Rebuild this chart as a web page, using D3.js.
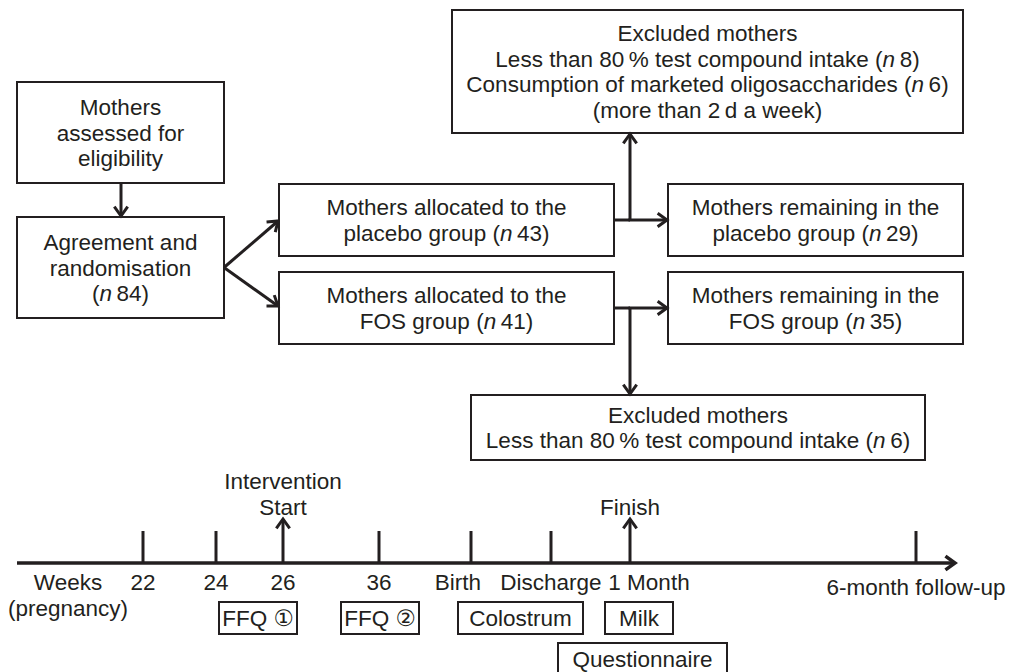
<!DOCTYPE html>
<html>
<head>
<meta charset="utf-8">
<script src="https://cdn.jsdelivr.net/npm/d3@7"></script>
<style>
  body { margin: 0; background: #fff; }
  svg text { font-family: "Liberation Sans", Arial, "DejaVu Sans", sans-serif; fill: #231f20; }
</style>
</head>
<body>
<svg id="chart" width="1010" height="672"></svg>
<script>
// counts
const nRandomised = 84;
const nAllocated = [43, 41];          // placebo, FOS
const nRemaining = [29, 35];
const nExcludedIntake = [8, 6];
const nExcludedOligo = 6;

// timeline
const milestones = ['22', '24', '26', '36', 'Birth', 'Discharge', '1 Month', '6-month follow-up'];
const arrowMilestones = ['26', '1 Month'];
const arrowCaptions = [['Intervention', 'Start'], ['Finish']];
const samples = ['FFQ \u2460', 'FFQ \u2461', 'Colostrum', 'Milk', 'Questionnaire'];

const TS = '\u2009'; // thin space
const nTxt = v => [{t: '('}, {t: 'n', i: true}, {t: TS + v + ')'}];

const boxes = [
  {id: 'assess', x: 17, y: 82, w: 207, h: 101, lines: [[{t: 'Mothers'}], [{t: 'assessed for'}], [{t: 'eligibility'}]]},
  {id: 'random', x: 17, y: 217, w: 207, h: 101, lines: [[{t: 'Agreement and'}], [{t: 'randomisation'}], nTxt(nRandomised)]},
  {id: 'allocP', x: 279, y: 184, w: 335, h: 72, lines: [[{t: 'Mothers allocated to the'}], [{t: 'placebo group '}].concat(nTxt(nAllocated[0]))]},
  {id: 'allocF', x: 279, y: 272, w: 335, h: 72, lines: [[{t: 'Mothers allocated to the'}], [{t: 'FOS group '}].concat(nTxt(nAllocated[1]))]},
  {id: 'remP', x: 668, y: 184, w: 295, h: 72, lines: [[{t: 'Mothers remaining in the'}], [{t: 'placebo group '}].concat(nTxt(nRemaining[0]))]},
  {id: 'remF', x: 668, y: 272, w: 295, h: 72, lines: [[{t: 'Mothers remaining in the'}], [{t: 'FOS group '}].concat(nTxt(nRemaining[1]))]},
  {id: 'exclP', x: 452, y: 10, w: 511, h: 123, lines: [
    [{t: 'Excluded mothers'}],
    [{t: 'Less than 80' + TS + '% test compound intake '}].concat(nTxt(nExcludedIntake[0])),
    [{t: 'Consumption of marketed oligosaccharides '}].concat(nTxt(nExcludedOligo)),
    [{t: '(more than 2' + TS + 'd a week)'}]]},
  {id: 'exclF', x: 471, y: 395, w: 454, h: 65, lines: [
    [{t: 'Excluded mothers'}],
    [{t: 'Less than 80' + TS + '% test compound intake '}].concat(nTxt(nExcludedIntake[1]))]}
];

const svg = d3.select('#chart');
const FS = 22.5, LH = 25.7, INK = '#231f20';

function drawText (g, x, y, parts, size) {
  const t = g.append('text')
    .attr('x', x).attr('y', y)
    .attr('text-anchor', 'middle')
    .attr('dy', '0.36em')
    .style('font-size', (size || FS) + 'px');
  parts.forEach(p => {
    t.append('tspan').text(p.t).style('font-style', p.i ? 'italic' : null);
  });
  return t;
}

function arrow (x1, y1, x2, y2, w) {
  const a = Math.atan2(y2 - y1, x2 - x1);
  const len = 10, spread = 0.62;
  svg.append('line')
    .attr('x1', x1).attr('y1', y1).attr('x2', x2).attr('y2', y2)
    .attr('stroke', INK).attr('stroke-width', w || 3);
  const p = d3.path();
  p.moveTo(x2 - len * Math.cos(a - spread), y2 - len * Math.sin(a - spread));
  p.lineTo(x2, y2);
  p.lineTo(x2 - len * Math.cos(a + spread), y2 - len * Math.sin(a + spread));
  svg.append('path').attr('d', p.toString())
    .attr('fill', 'none').attr('stroke', INK).attr('stroke-width', w || 3)
    .attr('stroke-linecap', 'square').attr('stroke-linejoin', 'miter');
}

// boxes
const bg = svg.selectAll('g.box').data(boxes).join('g').attr('class', 'box');
bg.append('rect')
  .attr('x', d => d.x).attr('y', d => d.y).attr('width', d => d.w).attr('height', d => d.h)
  .attr('fill', 'none').attr('stroke', INK).attr('stroke-width', 2);
bg.each(function (d) {
  const g = d3.select(this);
  const cy = d.y + d.h / 2, n = d.lines.length;
  d.lines.forEach((ln, i) => drawText(g, d.x + d.w / 2, cy + (i - (n - 1) / 2) * LH, ln));
});

const B = {};
boxes.forEach(b => { B[b.id] = b; });
const mid = b => b.y + b.h / 2;

// connectors
arrow(121, B.assess.y + B.assess.h, 121, B.random.y - 1);
const bx = B.random.x + B.random.w, by = mid(B.random);
arrow(bx, by, B.allocP.x - 1, mid(B.allocP) + 1);
arrow(bx, by, B.allocF.x - 1, mid(B.allocF) - 2);

const jx = 630;
[['allocP', 'remP', 'exclP'], ['allocF', 'remF', 'exclF']].forEach(([a, r, e]) => {
  const y = mid(B[a]);
  svg.append('line').attr('x1', B[a].x + B[a].w).attr('x2', jx).attr('y1', y).attr('y2', y)
    .attr('stroke', INK).attr('stroke-width', 3);
  arrow(jx - 1.5, y, B[r].x - 1, y);
  const ey = B[e].y > y ? B[e].y - 1 : B[e].y + B[e].h + 1;
  arrow(jx, y, jx, ey);
});

// timeline
const axisY = 563;
const xTime = d3.scaleOrdinal()
  .domain(milestones)
  .range([143, 216, 283, 379, 471, 551, 630, 916]);

arrow(17, axisY, 955, axisY, 3.5);

svg.selectAll('line.tick')
  .data(milestones.filter(m => arrowMilestones.indexOf(m) < 0))
  .join('line').attr('class', 'tick')
  .attr('x1', d => xTime(d)).attr('x2', d => xTime(d))
  .attr('y1', axisY).attr('y2', axisY - 32)
  .attr('stroke', INK).attr('stroke-width', 3);

arrowMilestones.forEach((m, i) => {
  arrow(xTime(m), axisY, xTime(m), axisY - 44);
  const cap = arrowCaptions[i];
  cap.forEach((c, j) => drawText(svg, xTime(m), axisY - 56 - (cap.length - 1 - j) * 26, [{t: c}], FS));
});

// labels under the axis
const labelShift = {'Birth': -13, '1 Month': 19};
milestones.forEach(m => {
  const dy = m === '6-month follow-up' ? 24 : 19;
  drawText(svg, xTime(m) + (labelShift[m] || 0), axisY + dy, [{t: m}], FS);
});
drawText(svg, 68, axisY + 19, [{t: 'Weeks'}], FS);
drawText(svg, 68, axisY + 45, [{t: '(pregnancy)'}], FS);

// sample collection boxes
const sampleBox = d3.scaleOrdinal().domain(samples)
  .range([[219, 602, 78], [341, 602, 78], [458, 602, 125], [605, 602, 68], [558, 643, 169]]);
const sg = svg.selectAll('g.sample').data(samples).join('g').attr('class', 'sample');
sg.append('rect')
  .attr('x', d => sampleBox(d)[0]).attr('y', d => sampleBox(d)[1])
  .attr('width', d => sampleBox(d)[2]).attr('height', 32)
  .attr('fill', 'none').attr('stroke', INK).attr('stroke-width', 2);
sg.each(function (d) {
  const b = sampleBox(d);
  drawText(d3.select(this), b[0] + b[2] / 2, b[1] + 16, [{t: d}], FS);
});
</script>
</body>
</html>
